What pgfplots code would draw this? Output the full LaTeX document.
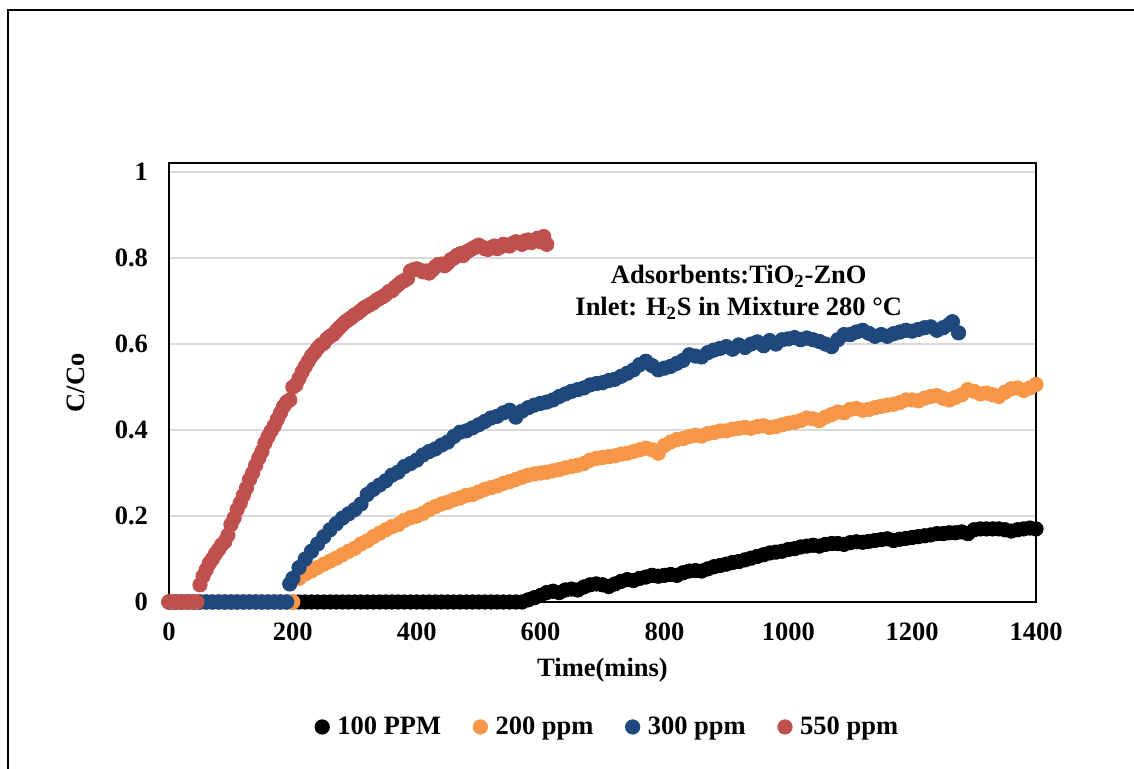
\documentclass[border=0pt]{standalone}
\usepackage{fontspec}
\setmainfont{Liberation Serif}
\usepackage{pgfplots}
\pgfplotsset{compat=1.18}
\definecolor{cblack}{HTML}{000000}
\definecolor{corange}{HTML}{F79646}
\definecolor{cblue}{HTML}{1F497D}
\definecolor{cred}{HTML}{C0504D}
\definecolor{cgrid}{HTML}{D9D9D9}
\begin{document}
\begin{tikzpicture}
\path[use as bounding box] (0,0) rectangle (567pt,384.5pt);
\draw[line width=1pt] (4pt,0) -- (4pt,379.5pt) -- (567pt,379.5pt);
\begin{axis}[
  at={(84.5pt,83.5pt)}, anchor=south west,
  scale only axis, width=433.5pt, height=219.25pt,
  xmin=0, xmax=1400, ymin=0, ymax=1.02,
  clip=false,
  axis line style={line width=1pt},
  xtick={0,200,400,600,800,1000,1200,1400},
  ytick={0,0.2,0.4,0.6,0.8,1},
  major tick length=0pt,
  ymajorgrids, grid style={cgrid, line width=0.9pt},
  /pgf/number format/assume math mode=true,
  /pgf/number format/1000 sep={},
  tick label style={font=\fontsize{13.25}{16}\selectfont\bfseries},
  xticklabel style={yshift=-7pt},
  yticklabel style={xshift=-7pt},
  xlabel={Time(mins)},
  ylabel={C/Co},
  label style={font=\fontsize{13.25}{16}\selectfont\bfseries},
  xlabel style={at={(axis description cs:0.5,-0.155)}, anchor=center},
  ylabel style={at={(axis description cs:-0.108,0.5)}, anchor=center},
  legend columns=4,
  legend style={at={(axis description cs:0.507,-0.285)}, anchor=center, draw=none,
    font=\fontsize{13.25}{16}\selectfont\bfseries,
    /tikz/every odd column/.append style={column sep=2pt},
    /tikz/every even column/.append style={column sep=14pt}},
  legend image code/.code={\draw[#1] plot coordinates {(0pt,0pt)};},
]
% 100 PPM
\addplot[only marks, mark=*, mark size=3.6pt, color=cblack] table {
x y
0 0
10 0
20 0
30 0
40 0
50 0
60 0
70 0
80 0
90 0
100 0
110 0
120 0
130 0
140 0
150 0
160 0
170 0
180 0
190 0
200 0
210 0
220 0
230 0
240 0
250 0
260 0
270 0
280 0
290 0
300 0
310 0
320 0
330 0
340 0
350 0
360 0
370 0
380 0
390 0
400 0
410 0
420 0
430 0
440 0
450 0
460 0
470 0
480 0
490 0
500 0
510 0
520 0
530 0
540 0
550 0
560 0
570 0
580 0.005
590 0.010
600 0.015
610 0.022
620 0.025
630 0.022
640 0.028
650 0.030
660 0.028
670 0.035
680 0.040
690 0.042
700 0.040
710 0.036
720 0.042
730 0.048
740 0.052
750 0.050
760 0.055
770 0.058
780 0.062
790 0.060
800 0.062
810 0.064
820 0.062
830 0.068
840 0.072
850 0.073
860 0.072
870 0.077
880 0.082
890 0.085
900 0.088
910 0.092
920 0.094
930 0.098
940 0.102
950 0.106
960 0.110
970 0.114
980 0.116
990 0.118
1000 0.122
1010 0.124
1020 0.128
1030 0.130
1040 0.132
1050 0.130
1060 0.134
1070 0.136
1080 0.136
1090 0.134
1100 0.138
1110 0.140
1120 0.139
1130 0.141
1140 0.143
1150 0.145
1160 0.147
1170 0.143
1180 0.146
1190 0.148
1200 0.150
1210 0.152
1220 0.154
1230 0.156
1240 0.159
1250 0.159
1260 0.161
1270 0.161
1280 0.163
1290 0.159
1300 0.168
1310 0.170
1320 0.170
1330 0.170
1340 0.170
1350 0.168
1360 0.165
1370 0.168
1380 0.170
1390 0.172
1400 0.170
};
\addlegendentry{100 PPM}
% 200 ppm
\addplot[only marks, mark=*, mark size=3.6pt, color=corange] table {
x y
0 0
10 0
20 0
30 0
40 0
50 0
60 0
70 0
80 0
90 0
100 0
110 0
120 0
130 0
140 0
150 0
160 0
170 0
180 0
190 0
200 0
210 0.055
220 0.065
230 0.072
240 0.080
250 0.088
260 0.095
270 0.102
280 0.110
290 0.118
300 0.125
310 0.135
320 0.142
330 0.152
340 0.160
350 0.168
360 0.175
370 0.180
380 0.190
390 0.196
400 0.200
410 0.206
420 0.215
430 0.222
440 0.228
450 0.232
460 0.238
470 0.242
480 0.248
490 0.250
500 0.256
510 0.262
520 0.266
530 0.270
540 0.276
550 0.280
560 0.285
570 0.290
580 0.295
590 0.298
600 0.300
610 0.302
620 0.305
630 0.308
640 0.312
650 0.315
660 0.318
670 0.322
680 0.330
690 0.334
700 0.336
710 0.338
720 0.340
730 0.344
740 0.346
750 0.350
760 0.354
770 0.358
780 0.354
790 0.346
800 0.364
810 0.372
820 0.378
830 0.380
840 0.385
850 0.388
860 0.386
870 0.392
880 0.394
890 0.398
900 0.398
910 0.402
920 0.404
930 0.406
940 0.404
950 0.408
960 0.410
970 0.406
980 0.408
990 0.412
1000 0.416
1010 0.418
1020 0.422
1030 0.428
1040 0.426
1050 0.422
1060 0.430
1070 0.436
1080 0.442
1090 0.440
1100 0.448
1110 0.450
1120 0.446
1130 0.448
1140 0.452
1150 0.455
1160 0.458
1170 0.460
1180 0.464
1190 0.470
1200 0.470
1210 0.468
1220 0.474
1230 0.478
1240 0.480
1250 0.474
1260 0.470
1270 0.476
1280 0.482
1290 0.494
1300 0.490
1310 0.484
1320 0.486
1330 0.482
1340 0.478
1350 0.488
1360 0.496
1370 0.498
1380 0.492
1390 0.498
1400 0.506
};
\addlegendentry{200 ppm}
% 300 ppm
\addplot[only marks, mark=*, mark size=3.6pt, color=cblue] table {
x y
0 0
10 0
20 0
30 0
40 0
50 0
60 0
70 0
80 0
90 0
100 0
110 0
120 0
130 0
140 0
150 0
160 0
170 0
180 0
190 0
195 0.042
200 0.055
210 0.080
220 0.100
230 0.118
240 0.135
250 0.152
260 0.168
270 0.182
280 0.195
290 0.205
300 0.215
310 0.228
320 0.250
330 0.262
340 0.272
350 0.282
360 0.295
370 0.302
380 0.315
390 0.322
400 0.330
410 0.342
420 0.350
430 0.356
440 0.365
450 0.372
460 0.385
470 0.395
480 0.398
490 0.405
500 0.412
510 0.420
520 0.428
530 0.432
540 0.440
550 0.446
560 0.430
570 0.444
580 0.452
590 0.458
600 0.462
610 0.465
620 0.470
630 0.478
640 0.484
650 0.490
660 0.494
670 0.498
680 0.505
690 0.508
700 0.510
710 0.515
720 0.518
730 0.525
740 0.532
750 0.540
760 0.552
770 0.560
780 0.550
790 0.540
800 0.544
810 0.548
820 0.555
830 0.562
840 0.575
850 0.572
860 0.570
870 0.580
880 0.586
890 0.590
900 0.594
910 0.588
920 0.598
930 0.592
940 0.600
950 0.605
960 0.596
970 0.608
980 0.600
990 0.610
1000 0.612
1010 0.615
1020 0.610
1030 0.614
1040 0.610
1050 0.606
1060 0.600
1070 0.594
1080 0.610
1090 0.622
1100 0.622
1110 0.628
1120 0.632
1130 0.625
1140 0.618
1150 0.622
1160 0.618
1170 0.624
1180 0.628
1190 0.632
1200 0.630
1210 0.634
1220 0.638
1230 0.640
1240 0.632
1250 0.638
1260 0.646
1265 0.652
1275 0.626
};
\addlegendentry{300 ppm}
% 550 ppm
\addplot[only marks, mark=*, mark size=3.6pt, color=cred] table {
x y
0 0
5 0
10 0
15 0
20 0
25 0
30 0
35 0
40 0
45 0
50 0.040
55 0.060
60 0.075
65 0.090
70 0.100
75 0.112
80 0.122
85 0.133
90 0.140
95 0.155
100 0.180
105 0.195
110 0.215
115 0.230
120 0.248
125 0.265
130 0.285
135 0.300
140 0.318
145 0.335
150 0.350
155 0.370
160 0.385
165 0.398
170 0.410
175 0.425
180 0.440
185 0.455
190 0.465
195 0.470
200 0.500
205 0.505
210 0.520
215 0.535
220 0.548
225 0.560
230 0.572
235 0.580
240 0.590
245 0.598
250 0.602
255 0.612
260 0.618
265 0.622
270 0.630
275 0.638
280 0.645
285 0.652
290 0.657
295 0.662
300 0.668
305 0.672
310 0.678
315 0.684
320 0.688
325 0.692
330 0.696
335 0.702
340 0.706
345 0.710
350 0.715
355 0.722
360 0.724
365 0.732
370 0.738
375 0.744
380 0.748
385 0.752
390 0.770
395 0.773
400 0.775
405 0.772
410 0.768
415 0.770
420 0.765
425 0.772
430 0.780
435 0.785
440 0.786
445 0.782
450 0.788
455 0.796
460 0.800
465 0.806
470 0.810
475 0.806
480 0.814
485 0.818
490 0.822
495 0.826
500 0.830
505 0.826
510 0.822
515 0.820
520 0.824
525 0.828
530 0.822
535 0.826
540 0.832
545 0.830
550 0.828
555 0.834
560 0.838
565 0.836
570 0.832
575 0.840
580 0.842
585 0.836
590 0.840
595 0.846
600 0.838
605 0.850
610 0.832
};
\addlegendentry{550 ppm}
\node[font=\fontsize{13.25}{16}\selectfont\bfseries, align=center] at (axis cs:920,0.72)
  {Adsorbents:TiO\textsubscript{2}-ZnO\\Inlet: H\textsubscript{2}S in Mixture 280 °C};
\end{axis}
\end{tikzpicture}
\end{document}
